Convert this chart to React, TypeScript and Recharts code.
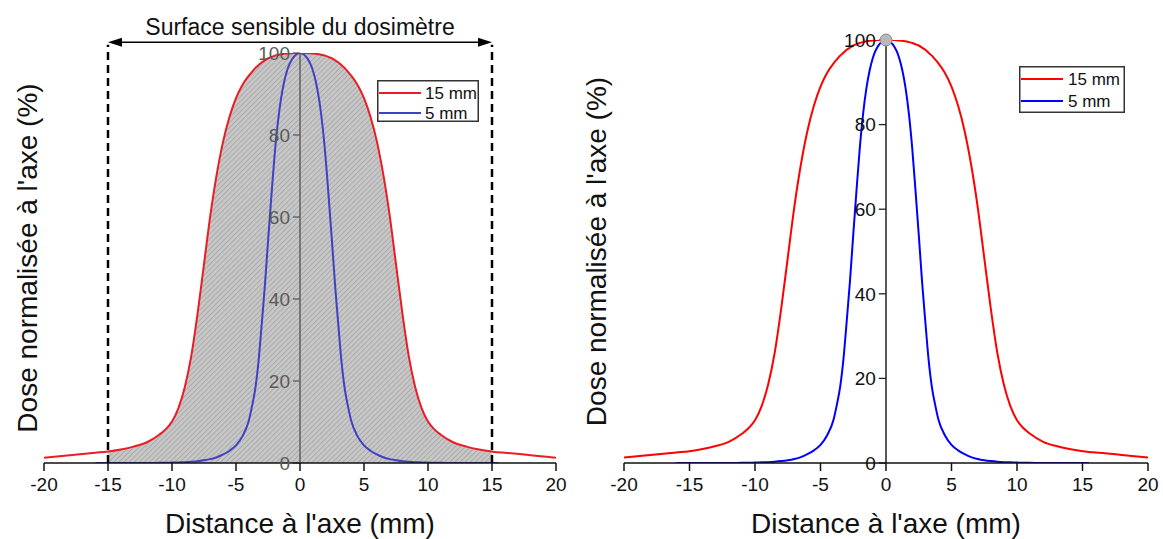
import React from 'react';
import {
  ComposedChart,
  Line,
  Area,
  XAxis,
  YAxis,
  ReferenceLine,
  ReferenceDot,
  Legend,
} from 'recharts';

// ---------- data ----------
const distances = [
  -20, -18, -16, -15, -14, -13, -12, -11, -10.5, -10, -9.5, -9, -8.5, -8, -7.5, -7, -6.5, -6, -5.5, -5, -4.5, -4,
  -3.75, -3.5, -3.25, -3, -2.75, -2.5, -2.25, -2, -1.75, -1.5, -1.25, -1, -0.5, 0,
  0.5, 1, 1.25, 1.5, 1.75, 2, 2.25, 2.5, 2.75, 3, 3.25, 3.5, 3.75,
  4, 4.5, 5, 5.5, 6, 6.5, 7, 7.5, 8, 8.5, 9, 9.5, 10, 10.5, 11, 12, 13, 14, 15, 15.5, 16, 18, 20,
];

const dose15 = [
  1.3, 1.9, 2.5, 2.8, 3.3, 4.0, 5.0, 6.9, 8.2, 10.1, 13.4, 18.5, 26, 36.5, 48.5, 60.5, 70.5, 78.5, 84.5, 89, 92.2, 94.5,
  95.4, 96.3, 97.0, 97.7, 98.2, 98.7, 99.0, 99.3, 99.5, 99.7, 99.8, 99.9, 100, 100,
  100, 99.9, 99.8, 99.7, 99.5, 99.3, 99.0, 98.7, 98.2, 97.7, 97.0, 96.3, 95.4,
  94.5, 92.2, 89, 84.5, 78.5, 70.5, 60.5, 48.5, 36.5, 26, 18.5, 13.4, 10.1, 8.2, 6.9, 5.0, 4.0, 3.3, 2.8, 2.6, 2.5, 1.9, 1.3,
];

const dose5 = [
  null, null, 0, 0, 0, 0, 0, 0.05, 0.07, 0.1, 0.15, 0.2, 0.3, 0.45, 0.65, 0.95, 1.4, 2.1, 3.0, 4.3, 6.5, 10.3,
  13.8, 18, 24.5, 33.5, 43, 54, 64.5, 74.5, 82.5, 88.5, 92.8, 95.8, 99, 100,
  99, 95.8, 92.8, 88.5, 82.5, 74.5, 64.5, 54, 43, 33.5, 24.5, 18, 13.8,
  10.3, 6.5, 4.3, 3.0, 2.1, 1.4, 0.95, 0.65, 0.45, 0.3, 0.2, 0.15, 0.1, 0.07, 0.05, 0, 0, 0, 0, 0, null, null, null,
];

const seriesNames = ['15 mm', '5 mm'];
const xTicks = [-20, -15, -10, -5, 0, 5, 10, 15, 20];
const yTicks = [0, 20, 40, 60, 80, 100];
const sensitiveLimits = [-15, 15];
const sensitiveLabel = 'Surface sensible du dosimètre';
const xTitle = "Distance à l'axe (mm)";
const yTitle = "Dose normalisée à l'axe (%)";

const rows = distances.map((d, i) => ({
  d,
  r: dose15[i],
  b: dose5[i],
  shade: d >= sensitiveLimits[0] && d <= sensitiveLimits[1] ? dose15[i] : null,
}));

const FONT = '"Liberation Sans", Arial, Helvetica, sans-serif';
const TXT = '#111';

type LegendBox = { w: number; h: number; rows: number[]; textX: number };

const makeLegend = (box: LegendBox) => (props: any) => {
  const items = (props.payload || []).filter((p: any) => p.type !== 'none');
  return (
    <svg width={box.w} height={box.h} style={{ display: 'block' }}>
      <rect x={0.75} y={0.75} width={box.w - 1.5} height={box.h - 1.5} fill="#fff" stroke="#333" strokeWidth={1.5} />
      {items.map((it: any, i: number) => (
        <g key={it.value}>
          <line x1={2} x2={44} y1={box.rows[i]} y2={box.rows[i]} stroke={it.color} strokeWidth={2} />
          <text x={box.textX} y={box.rows[i]} dy="0.36em" fontSize={17} fontFamily={FONT} fill={TXT}>
            {it.value}
          </text>
        </g>
      ))}
    </svg>
  );
};

const ArrowShape = (props: any) => {
  const { x1, y1, x2 } = props;
  const y = y1;
  const mid = (x1 + x2) / 2;
  return (
    <g>
      <line x1={x1 + 10} x2={x2 - 10} y1={y} y2={y} stroke="#000" strokeWidth={1.5} />
      <polygon points={`${x1},${y} ${x1 + 14},${y - 4.5} ${x1 + 14},${y + 4.5}`} fill="#000" />
      <polygon points={`${x2},${y} ${x2 - 14},${y - 4.5} ${x2 - 14},${y + 4.5}`} fill="#000" />
      <text x={mid} y={y - 7} textAnchor="middle" fontSize={23} fontFamily={FONT} fill={TXT}>
        {sensitiveLabel}
      </text>
    </g>
  );
};

type ChartProps = {
  left: boolean;
};

const ProfileChart = ({ left }: ChartProps) => {
  const red = left ? '#ea1c24' : '#ff0000';
  const blue = left ? '#4040c4' : '#0000ff';
  // in the left panel the vertical axis sits under the translucent shading
  const axisColor = left ? '#5e5e5e' : '#222';
  const yLabelColor = left ? '#5a5a5a' : TXT;
  const width = left ? 580 : 583;
  const margin = left ? { top: 53, right: 24, bottom: 0, left: 0 } : { top: 40, right: 15, bottom: 0, left: 0 };
  const legendBox: LegendBox = left
    ? { w: 102, h: 42, rows: [13, 33], textX: 48 }
    : { w: 106, h: 47, rows: [13, 35], textX: 49 };
  const legendPos = left ? { left: 377, top: 80 } : { left: 439, top: 66 };

  return (
    <ComposedChart width={width} height={539} data={rows} margin={margin}>
      <defs>
        <pattern id="hatch" patternUnits="userSpaceOnUse" width={3.6} height={3.6} patternTransform="rotate(45)">
          <rect x={0} y={0} width={3.6} height={3.6} fill="#a4a4a4" />
          <line x1={0.5} y1={0} x2={0.5} y2={3.6} stroke="#6a6a6a" strokeWidth={0.8} />
        </pattern>
      </defs>
      <XAxis
        type="number"
        dataKey="d"
        domain={[-20, 20]}
        ticks={xTicks}
        interval={0}
        allowDataOverflow
        height={76}
        tickSize={8}
        tickMargin={7}
        tick={{ fill: TXT, fontSize: 19, fontFamily: FONT }}
        axisLine={{ stroke: '#111', strokeWidth: 1.5 }}
        tickLine={{ stroke: '#111', strokeWidth: 1.5 }}
        label={{ value: xTitle, position: 'insideBottom', offset: 6, fontSize: 28, fill: TXT, fontFamily: FONT }}
      />
      <YAxis
        type="number"
        domain={[0, 100]}
        allowDataOverflow
        width={44}
        tick={false}
        tickLine={false}
        axisLine={false}
        label={{
          value: yTitle,
          angle: -90,
          position: 'insideLeft',
          offset: left ? 27 : 16,
          style: { textAnchor: 'middle' },
          fontSize: 28,
          fill: TXT,
          fontFamily: FONT,
        }}
      />
      <ReferenceLine
        segment={[{ x: 0, y: 0 }, { x: 0, y: 100 }]}
        stroke={axisColor}
        strokeWidth={1.5}
        ifOverflow="visible"
      />
      {yTicks.map((v) => (
        <ReferenceLine
          key={'yt' + v}
          segment={[{ x: -0.55, y: v }, { x: 0, y: v }]}
          stroke={axisColor}
          strokeWidth={1.3}
          ifOverflow="visible"
          label={{ value: String(v), position: 'left', offset: 3, fill: yLabelColor, fontSize: 19, fontFamily: FONT }}
        />
      ))}
      {left && (
        <Area
          type="monotone"
          dataKey="shade"
          fill="url(#hatch)"
          fillOpacity={0.62}
          stroke="none"
          legendType="none"
          baseValue={0}
          dot={false}
          activeDot={false}
          isAnimationActive={false}
        />
      )}
      <Line
        type="monotone"
        dataKey="r"
        name={seriesNames[0]}
        stroke={red}
        strokeWidth={2}
        dot={false}
        activeDot={false}
        isAnimationActive={false}
      />
      <Line
        type="monotone"
        dataKey="b"
        name={seriesNames[1]}
        stroke={blue}
        strokeWidth={2}
        dot={false}
        activeDot={false}
        isAnimationActive={false}
      />
      {left &&
        sensitiveLimits.map((x) => (
          <ReferenceLine
            key={'lim' + x}
            segment={[{ x, y: 0 }, { x, y: 102 }]}
            stroke="#000"
            strokeWidth={2.5}
            strokeDasharray="8 5"
            ifOverflow="visible"
          />
        ))}
      {left && (
        <ReferenceLine
          segment={[{ x: sensitiveLimits[0], y: 102.6 }, { x: sensitiveLimits[1], y: 102.6 }]}
          ifOverflow="visible"
          shape={ArrowShape}
        />
      )}
      {!left && (
        <ReferenceDot x={0} y={100} r={6} fill="#b8b8b8" stroke="#888" strokeWidth={1} ifOverflow="visible" />
      )}
      <Legend
        layout="horizontal"
        verticalAlign="middle"
        align="center"
        wrapperStyle={{ ...legendPos, width: legendBox.w, height: legendBox.h }}
        content={makeLegend(legendBox)}
      />
    </ComposedChart>
  );
};

export default function App() {
  return (
    <div
      style={{
        position: 'absolute',
        left: 0,
        top: 0,
        width: 1163,
        height: 539,
        background: '#fff',
        fontFamily: FONT,
      }}
    >
      <div style={{ position: 'absolute', left: 0, top: 0 }}>
        <ProfileChart left={true} />
      </div>
      <div style={{ position: 'absolute', left: 580, top: 0 }}>
        <ProfileChart left={false} />
      </div>
    </div>
  );
}
